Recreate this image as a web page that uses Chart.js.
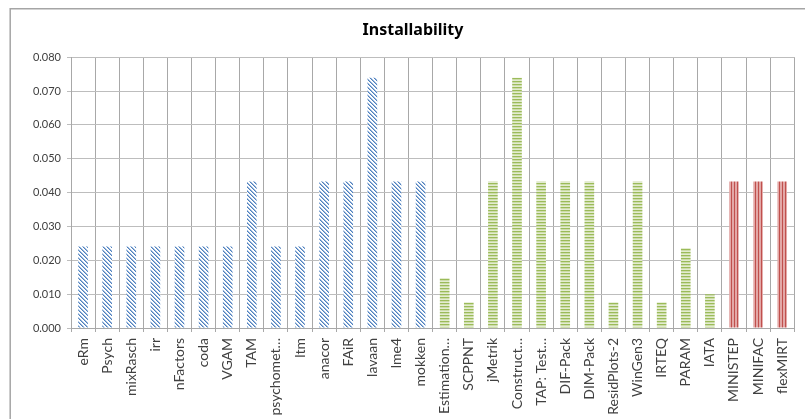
<!DOCTYPE html>
<html>
<head>
<meta charset="utf-8">
<script src="https://cdn.jsdelivr.net/npm/chart.js@4"></script>
<style>
  body { margin: 0; background: #fff; }
  #wrap { position: relative; width: 805px; height: 419px; overflow: hidden; }
</style>
</head>
<body>
<div id="wrap"><canvas id="chart" width="805" height="419"></canvas></div>
<script>
// packages on the x axis
const packages = ['eRm', 'Psych', 'mixRasch', 'irr', 'nFactors', 'coda', 'VGAM', 'TAM', 'psychomet…', 'ltm',
    'anacor', 'FAiR', 'lavaan', 'lme4', 'mokken', 'Estimation…', 'SCPPNT', 'jMetrik', 'Construct…', 'TAP: Test…',
    'DIF-Pack', 'DIM-Pack', 'ResidPlots-2', 'WinGen3', 'IRTEQ', 'PARAM', 'IATA', 'MINISTEP', 'MINIFAC', 'flexMIRT']

// installability score per package
const installability = [0.0241, 0.0241, 0.0241, 0.0241, 0.0241, 0.0241, 0.0241, 0.0433, 0.0241, 0.0241,
    0.0433, 0.0433, 0.0739, 0.0433, 0.0433, 0.0148, 0.0076, 0.0433, 0.0739, 0.0433,
    0.0433, 0.0433, 0.0076, 0.0433, 0.0076, 0.0236, 0.0100, 0.0433, 0.0433, 0.0433]

// which group each package belongs to (sets the fill pattern)
const groups = ['r', 'r', 'r', 'r', 'r', 'r', 'r', 'r', 'r', 'r',
    'r', 'r', 'r', 'r', 'r', 'free', 'free', 'free', 'free', 'free',
    'free', 'free', 'free', 'free', 'free', 'free', 'free', 'comm', 'comm', 'comm']

const yTicks = { min: 0, max: 0.08, step: 0.01 }

// small pattern tiles like the excel fills
function makePattern(size, paint) {
    const c = document.createElement('canvas')
    c.width = size
    c.height = size
    const g = c.getContext('2d')
    paint(g)
    return document.getElementById('chart').getContext('2d').createPattern(c, 'repeat')
}

const patterns = {
    r: makePattern(4, g => {
        g.fillStyle = '#ffffff'
        g.fillRect(0, 0, 4, 4)
        for (let i = 0; i < 4; i++) {
            g.fillStyle = '#4f81bd'
            g.fillRect(i, i, 1, 1)
            g.fillStyle = '#9db9de'
            g.fillRect((i + 1) % 4, i, 1, 1)
        }
    }),
    free: makePattern(3, g => {
        g.fillStyle = '#9bbb59'
        g.fillRect(0, 0, 3, 1)
        g.fillStyle = '#cddcaa'
        g.fillRect(0, 1, 3, 1)
        g.fillStyle = '#e3ecd0'
        g.fillRect(0, 2, 3, 1)
    }),
    comm: makePattern(3, g => {
        g.fillStyle = '#e3a8a7'
        g.fillRect(0, 0, 3, 3)
        g.fillStyle = '#c0504d'
        g.fillRect(2, 0, 1, 3)
    })
}

// grey frame of the excel chart area
const framePlugin = {
    id: 'frame',
    afterDraw(chart) {
        const ctx = chart.ctx
        ctx.save()
        ctx.strokeStyle = '#a5a5a5'
        ctx.lineWidth = 1.5
        ctx.beginPath()
        ctx.moveTo(10.2, 419)
        ctx.lineTo(10.2, 8.7)
        ctx.lineTo(805, 8.7)
        ctx.stroke()
        ctx.restore()
    }
}

const fontFamily = "Lato, 'Noto Sans', sans-serif"

new Chart(document.getElementById('chart'), {
    type: 'bar',
    data: {
        labels: packages,
        datasets: [{
            data: installability,
            backgroundColor: groups.map(g => patterns[g]),
            borderWidth: 0,
            barPercentage: 0.4,
            categoryPercentage: 1
        }]
    },
    options: {
        responsive: false,
        animation: false,
        layout: { padding: { left: 21, right: 0, top: 0, bottom: 0 } },
        plugins: {
            legend: { display: false },
            tooltip: { enabled: false },
            title: {
                display: true,
                text: 'Installability',
                color: '#000',
                font: { family: "'Noto Sans', sans-serif", size: 16, weight: 'bold' },
                padding: { top: 21, bottom: 17 }
            }
        },
        scales: {
            x: {
                grid: { color: '#a8a8a8', tickLength: 4, offset: true },
                border: { color: '#a8a8a8' },
                ticks: {
                    minRotation: 90, maxRotation: 90, autoSkip: false,
                    color: '#404040', padding: 6,
                    font: { family: fontFamily, size: 14 }
                },
                afterFit(scale) { scale.height = 91 }
            },
            y: {
                min: yTicks.min,
                max: yTicks.max,
                grid: { color: '#bdbdbd', tickLength: 4 },
                border: { color: '#a8a8a8' },
                ticks: {
                    stepSize: yTicks.step,
                    color: '#404040', padding: 6,
                    font: { family: fontFamily, size: 11 },
                    callback: v => v.toFixed(3)
                },
                afterFit(scale) { scale.width = 50 }
            }
        }
    },
    plugins: [framePlugin]
})
</script>
</body>
</html>
